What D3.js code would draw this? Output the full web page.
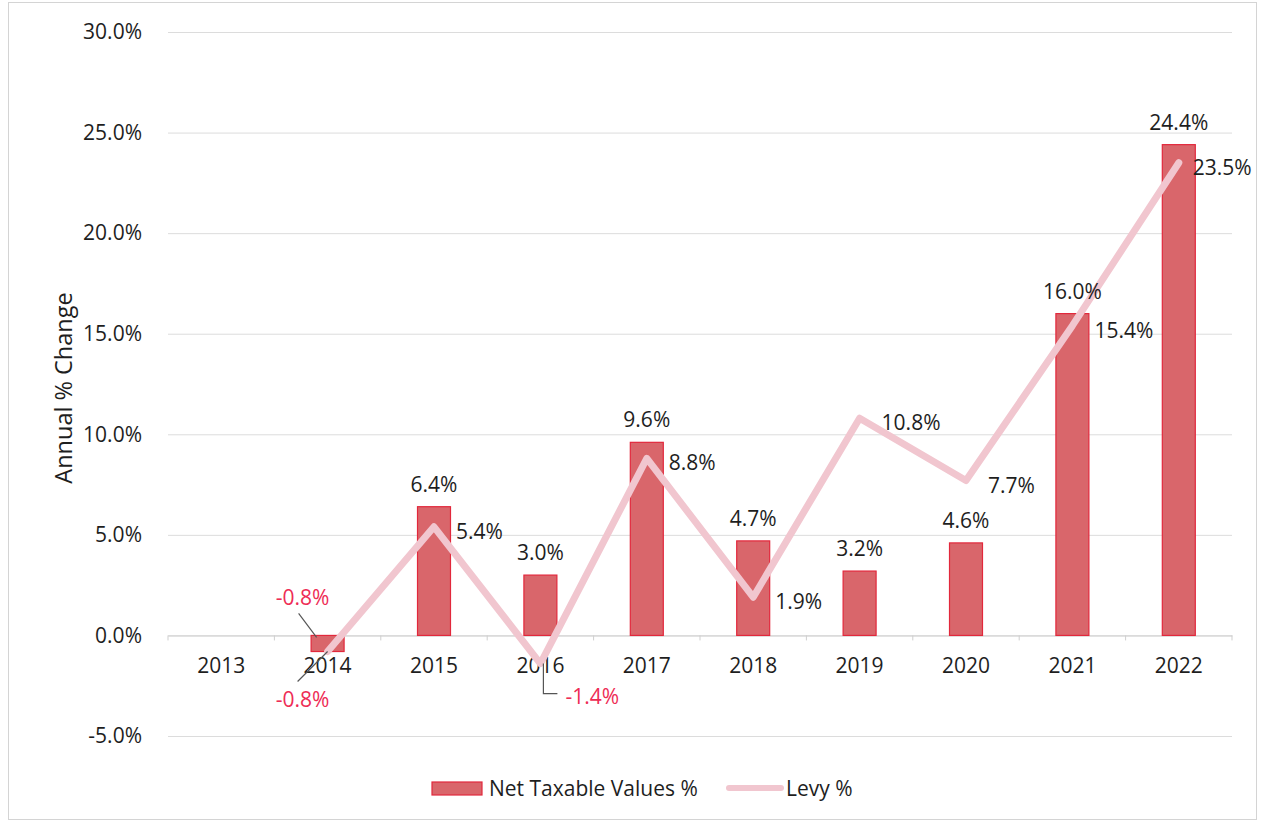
<!DOCTYPE html>
<html>
<head>
<meta charset="utf-8">
<script src="https://cdn.jsdelivr.net/npm/d3@7/dist/d3.min.js"></script>
<style>
  html, body { margin: 0; padding: 0; background: #ffffff; }
  svg { display: block; font-family: "Open Sans", "Noto Sans", sans-serif; }
</style>
</head>
<body>
<svg id="chart" width="1261" height="825"></svg>
<script>
// Annual % change data
const years = ["2013", "2014", "2015", "2016", "2017", "2018", "2019", "2020", "2021", "2022"];
const netTaxable = [null, -0.8, 6.4, 3.0, 9.6, 4.7, 3.2, 4.6, 16.0, 24.4];
const levy = [null, -0.8, 5.4, -1.4, 8.8, 1.9, 10.8, 7.7, 15.4, 23.5];
const yTicks = [-5, 0, 5, 10, 15, 20, 25, 30];
const seriesNames = ["Net Taxable Values %", "Levy %"];

const plot = { left: 168, right: 1232, top: 32, bottom: 736 };

const barFill = "#d9666b";
const barEdge = "#e2283c";
const lineColor = "#f1c6cf";
const textColor = "#1e1e1e";
const negColor = "#ee2c55";
const gridColor = "#dcdcdc";
const fontSize = 21;
const titleSize = 23.5;

const svg = d3.select("#chart");

// chart frame
svg.append("rect")
  .attr("x", 8.5).attr("y", 2.5)
  .attr("width", 1248).attr("height", 817)
  .attr("fill", "none").attr("stroke", "#d4d4d4").attr("stroke-width", 1);

const x = d3.scaleBand().domain(years).range([plot.left, plot.right]).padding(0);
const y = d3.scaleLinear().domain([-5, 30]).range([plot.bottom, plot.top]);
const barW = x.bandwidth() * 0.31;
const fmt = v => v.toFixed(1) + "%";

// gridlines + y tick labels
const yAxis = d3.axisLeft(y)
  .tickValues(yTicks)
  .tickSize(-(plot.right - plot.left))
  .tickPadding(26)
  .tickFormat(fmt);
const gy = svg.append("g").attr("transform", `translate(${plot.left},0)`).call(yAxis);
gy.select(".domain").remove();
gy.selectAll(".tick line").attr("stroke", gridColor).attr("stroke-width", 1);
gy.selectAll(".tick text")
  .attr("fill", textColor)
  .style("font-size", fontSize + "px")
  .style("font-family", "'Open Sans', sans-serif");

// category axis at zero
const xAxis = d3.axisBottom(x).tickSize(0).tickPadding(23);
const gx = svg.append("g").attr("transform", `translate(0,${y(0)})`).call(xAxis);
gx.select(".domain").attr("stroke", "#cfcfcf");
gx.selectAll(".tick text")
  .attr("fill", textColor)
  .style("font-size", fontSize + "px")
  .style("font-family", "'Open Sans', sans-serif");

// tick marks at category boundaries
const bounds = years.map(yr => x(yr)).concat([x(years[years.length - 1]) + x.bandwidth()]);
svg.append("g").selectAll("line").data(bounds).join("line")
  .attr("x1", d => d).attr("x2", d => d)
  .attr("y1", y(0)).attr("y2", y(0) + 5)
  .attr("stroke", "#cfcfcf").attr("stroke-width", 1);

// bars
const barData = years.map((yr, i) => ({ year: yr, v: netTaxable[i] })).filter(d => d.v !== null);
svg.append("g").selectAll("rect").data(barData).join("rect")
  .attr("x", d => x(d.year) + x.bandwidth() / 2 - barW / 2)
  .attr("y", d => y(Math.max(0, d.v)))
  .attr("width", barW)
  .attr("height", d => Math.abs(y(d.v) - y(0)))
  .attr("fill", barFill)
  .attr("stroke", barEdge)
  .attr("stroke-width", 1.2);

// levy line
const lineData = years.map((yr, i) => ({ year: yr, v: levy[i] })).filter(d => d.v !== null);
const cx = d => x(d.year) + x.bandwidth() / 2;
const line = d3.line().x(cx).y(d => y(d.v));
svg.append("path")
  .datum(lineData)
  .attr("d", line)
  .attr("fill", "none")
  .attr("stroke", lineColor)
  .attr("stroke-width", 7)
  .attr("stroke-linejoin", "round")
  .attr("stroke-linecap", "round");

const labels = svg.append("g")
  .style("font-size", fontSize + "px")
  .style("font-family", "'Open Sans', sans-serif");
const leader = svg.append("g").attr("stroke", "#555").attr("stroke-width", 1.2).attr("fill", "none");

// bar value labels
barData.forEach(d => {
  const px = cx(d);
  if (d.v < 0) {
    const lx = px - 25, ly = y(0) - 38;
    labels.append("text").attr("x", lx).attr("y", ly)
      .attr("text-anchor", "middle").attr("dominant-baseline", "central")
      .attr("fill", negColor).text(fmt(d.v));
    leader.append("line")
      .attr("x1", lx - 4).attr("y1", ly + 16)
      .attr("x2", px - 11).attr("y2", y(0) + 2);
  } else {
    labels.append("text").attr("x", px).attr("y", y(d.v) - 23)
      .attr("text-anchor", "middle").attr("dominant-baseline", "central")
      .attr("fill", textColor).text(fmt(d.v));
  }
});

// levy value labels
lineData.forEach((d, i) => {
  const px = cx(d), py = y(d.v);
  if (d.year === "2014") {
    const lx = px - 25, ly = py + 47;
    labels.append("text").attr("x", lx).attr("y", ly)
      .attr("text-anchor", "middle").attr("dominant-baseline", "central")
      .attr("fill", negColor).text(fmt(d.v));
    leader.append("line")
      .attr("x1", lx - 5).attr("y1", ly - 17)
      .attr("x2", px).attr("y2", py);
  } else if (d.year === "2016") {
    const lx = px + 25, ly = py + 32;
    labels.append("text").attr("x", lx).attr("y", ly)
      .attr("text-anchor", "start").attr("dominant-baseline", "central")
      .attr("fill", negColor).text(fmt(d.v));
    leader.append("path")
      .attr("d", `M${px + 3},${py}V${ly - 2}H${px + 17}`);
  } else {
    const last = i === lineData.length - 1;
    labels.append("text").attr("x", px + (last ? 14 : 22)).attr("y", py + 4)
      .attr("text-anchor", "start").attr("dominant-baseline", "central")
      .attr("fill", textColor).text(fmt(d.v));
  }
});

// y-axis title
svg.append("text")
  .attr("transform", `translate(63,388) rotate(-90)`)
  .attr("text-anchor", "middle").attr("dominant-baseline", "central")
  .attr("fill", textColor)
  .style("font-size", titleSize + "px")
  .text("Annual % Change");

// legend
const lg = svg.append("g").style("font-size", fontSize + "px");
lg.append("rect").attr("x", 432).attr("y", 782).attr("width", 50).attr("height", 13)
  .attr("fill", barFill).attr("stroke", barEdge).attr("stroke-width", 1.2);
lg.append("text").attr("x", 489).attr("y", 788).attr("dominant-baseline", "central")
  .attr("fill", textColor).text(seriesNames[0]);
lg.append("line").attr("x1", 729).attr("x2", 781).attr("y1", 788).attr("y2", 788)
  .attr("stroke", lineColor).attr("stroke-width", 6).attr("stroke-linecap", "round");
lg.append("text").attr("x", 786).attr("y", 788).attr("dominant-baseline", "central")
  .attr("fill", textColor).text(seriesNames[1]);
</script>
</body>
</html>
